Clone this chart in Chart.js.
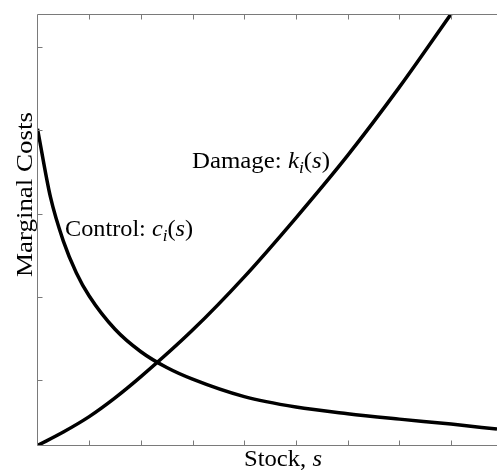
<!DOCTYPE html>
<html>
<head>
<meta charset="utf-8">
<script src="https://cdn.jsdelivr.net/npm/chart.js@4/dist/chart.umd.min.js"></script>
<style>
  html, body { margin: 0; padding: 0; background: #fff; }
  #wrap { width: 497px; height: 471px; }
</style>
</head>
<body>
<div id="wrap"><canvas id="costChart" width="497" height="471"></canvas></div>
<script>
// Stock values (s) and marginal costs
const controlStock = [0, 0.25, 0.5, 0.75, 1, 1.5, 2, 2.5, 3, 4, 5, 6, 7, 8, 8.888];
const controlCost  = [4.02, 3.20, 2.67, 2.29, 2.01, 1.61, 1.34, 1.15, 1.01, 0.80, 0.675, 0.595, 0.53, 0.47, 0.41];

const damageStock = [0, 0.5, 1, 1.5, 2, 3, 4, 5, 6, 7, 8];
const damageCost  = [0.213, 0.375, 0.56, 0.785, 1.04, 1.60, 2.24, 2.95, 3.70, 4.52, 5.40];

// tick marks (no labels in the figure)
const xTicks = [1, 2, 3, 4, 5, 6, 7, 8];
const yTicks = [1, 2, 3, 4, 5];

const toPoints = (xs, ys) => xs.map((x, i) => ({ x: x, y: ys[i] }));

const SERIF = '"Liberation Serif", "Times New Roman", serif';

// draws text made of roman / italic / subscript pieces, stretched to a width
function drawRich(ctx, x, y, parts, size, width) {
  const fontOf = p => (p.italic ? 'italic ' : '') + (p.sub ? size * 0.7 : size) + 'px ' + SERIF;
  let total = 0;
  parts.forEach(p => { ctx.font = fontOf(p); total += ctx.measureText(p.t).width; });
  ctx.save();
  ctx.translate(x, y);
  ctx.scale(width / total, 1);
  let cx = 0;
  parts.forEach(p => {
    ctx.font = fontOf(p);
    ctx.fillText(p.t, cx, p.sub ? size * 0.2 : 0);
    cx += ctx.measureText(p.t).width;
  });
  ctx.restore();
}

const framePlugin = {
  id: 'frame',
  afterDraw(chart) {
    const ctx = chart.ctx;
    const a = chart.chartArea;
    const xs = chart.scales.x, ys = chart.scales.y;
    ctx.save();
    ctx.strokeStyle = '#7a7a7a';
    ctx.lineWidth = 1;
    ctx.beginPath();
    ctx.moveTo(a.right, a.top); ctx.lineTo(a.left, a.top);
    ctx.lineTo(a.left, a.bottom); ctx.lineTo(a.right, a.bottom);
    xTicks.forEach(v => {
      const px = Math.round(xs.getPixelForValue(v)) + 0.5;
      ctx.moveTo(px, a.bottom); ctx.lineTo(px, a.bottom - 5);
      ctx.moveTo(px, a.top); ctx.lineTo(px, a.top + 5);
    });
    yTicks.forEach(v => {
      const py = Math.round(ys.getPixelForValue(v)) + 0.5;
      ctx.moveTo(a.left, py); ctx.lineTo(a.left + 5, py);
    });
    ctx.stroke();

    ctx.fillStyle = '#000';
    ctx.textBaseline = 'alphabetic';
    drawRich(ctx, 192, 168, [
      { t: 'Damage: ' }, { t: 'k', italic: true }, { t: 'i', italic: true, sub: true },
      { t: '(' }, { t: 's', italic: true }, { t: ')' }
    ], 23, 138);
    drawRich(ctx, 65, 236, [
      { t: 'Control: ' }, { t: 'c', italic: true }, { t: 'i', italic: true, sub: true },
      { t: '(' }, { t: 's', italic: true }, { t: ')' }
    ], 23, 128);
    drawRich(ctx, 244, 466, [{ t: 'Stock, ' }, { t: 's', italic: true }], 24, 78);

    ctx.translate(32, 277);
    ctx.rotate(-Math.PI / 2);
    drawRich(ctx, 0, 0, [{ t: 'Marginal Costs' }], 24, 165);
    ctx.restore();
  }
};

new Chart(document.getElementById('costChart').getContext('2d'), {
  type: 'line',
  data: {
    datasets: [
      {
        label: 'Control',
        data: toPoints(controlStock, controlCost),
        borderColor: '#000',
        borderWidth: 3.5,
        pointRadius: 0,
        cubicInterpolationMode: 'monotone'
      },
      {
        label: 'Damage',
        data: toPoints(damageStock, damageCost),
        borderColor: '#000',
        borderWidth: 3.5,
        pointRadius: 0,
        cubicInterpolationMode: 'monotone'
      }
    ]
  },
  options: {
    responsive: false,
    animation: false,
    layout: { padding: { left: 37.5, top: 14.5, right: 0, bottom: 25.5 } },
    plugins: { legend: { display: false }, tooltip: { enabled: false } },
    scales: {
      x: { type: 'linear', display: false, min: 0, max: 8.888 },
      y: { type: 'linear', display: false, min: 0.213, max: 5.393 }
    }
  },
  plugins: [framePlugin]
});
</script>
</body>
</html>
